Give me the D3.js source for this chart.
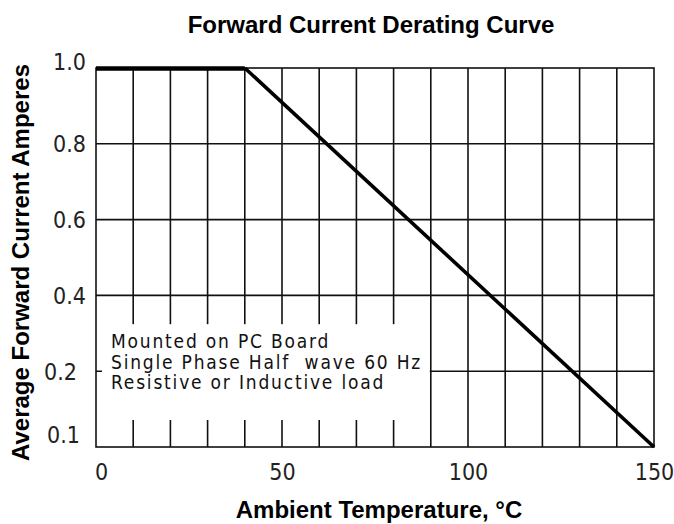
<!DOCTYPE html>
<html>
<head>
<meta charset="utf-8">
<script src="https://cdn.jsdelivr.net/npm/d3@7"></script>
<style>
  body { margin: 0; background: #fff; }
  .tick-lbl { font-family: "DejaVu Sans Condensed", "DejaVu Sans", sans-serif; font-stretch: condensed; font-size: 23px; fill: #222; }
  .bold-lbl { font-family: "Liberation Sans", Arial, sans-serif; font-weight: bold; font-size: 24px; fill: #000; }
  .note { font-family: "DejaVu Sans Condensed", "DejaVu Sans", sans-serif; font-stretch: condensed; font-size: 19px; letter-spacing: 1.8px; fill: #111; white-space: pre; }
</style>
</head>
<body>
<div id="chart"></div>
<script>
// donnees
var temps = [0, 40, 150];
var current = [1.0, 1.0, 0.1];
var xTicks = [0, 50, 100, 150];
var xGrid = [10, 20, 30, 40, 50, 60, 70, 80, 90, 100, 110, 120, 130, 140];
var yTicks = [0.1, 0.2, 0.4, 0.6, 0.8, 1.0];
var yGrid = [0.2, 0.4, 0.6, 0.8];
var noteLines = ["Mounted on PC Board", "Single Phase Half  wave 60 Hz", "Resistive or Inductive load"];
var chartTitle = "Forward Current Derating Curve";
var xTitle = "Ambient Temperature, °C";
var yTitle = "Average Forward Current Amperes";

var margin = {top: 68, right: 20, bottom: 77, left: 96},
    width = 674 - margin.left - margin.right,
    height = 524 - margin.top - margin.bottom;

var svg = d3.select("#chart")
  .append("svg")
    .attr("width", 674)
    .attr("height", 524)
  .append("g")
    .attr("transform", "translate(" + margin.left + "," + margin.top + ")");

var x = d3.scaleLinear()
  .domain([0, 150])
  .range([0, width]);

// echelle en deux morceaux : 0.1 -> 0.2 a le meme pas que 0.2 -> 0.4
var y = d3.scaleLinear()
  .domain([0.1, 0.2, 1.0])
  .range([height, height * 4 / 5, 0]);

// grille verticale
svg.append("g").selectAll("line")
  .data(xGrid)
  .enter().append("line")
    .attr("x1", function(d) { return x(d); })
    .attr("x2", function(d) { return x(d); })
    .attr("y1", 0)
    .attr("y2", height)
    .attr("stroke", "#111")
    .attr("stroke-width", 1.6);

// grille horizontale
svg.append("g").selectAll("line")
  .data(yGrid)
  .enter().append("line")
    .attr("x1", 0)
    .attr("x2", width)
    .attr("y1", function(d) { return y(d); })
    .attr("y2", function(d) { return y(d); })
    .attr("stroke", "#111")
    .attr("stroke-width", 1.6);

// cadre
svg.append("rect")
  .attr("width", width)
  .attr("height", height)
  .attr("fill", "none")
  .attr("stroke", "#111")
  .attr("stroke-width", 1.6);

// zone blanche de la note
var noteTop = y(0.2) - 47, noteBottom = y(0.1) - 27;
svg.append("rect")
  .attr("x", 6)
  .attr("y", noteTop)
  .attr("width", x(90) - 7)
  .attr("height", noteBottom - noteTop)
  .attr("fill", "#fff");

svg.append("g").selectAll("text")
  .data(noteLines)
  .enter().append("text")
    .attr("class", "note")
    .attr("x", 15)
    .attr("y", function(d, i) { return noteTop + 24 + i * 20.5; })
    .text(function(d) { return d; });

// courbe
var line = d3.line()
  .x(function(d) { return x(d[0]); })
  .y(function(d) { return y(d[1]); });
var pts = temps.map(function(t, i) { return [t, current[i]]; });

svg.append("path")
  .datum(pts.slice(1))
  .attr("d", line)
  .attr("fill", "none")
  .attr("stroke", "#000")
  .attr("stroke-width", 3.6);

svg.append("path")
  .datum(pts.slice(0, 2))
  .attr("d", line)
  .attr("fill", "none")
  .attr("stroke", "#000")
  .attr("stroke-width", 4.5)
  .attr("transform", "translate(0,0.5)");

// Axe X
var gx = svg.append("g")
  .attr("transform", "translate(0," + height + ")")
  .call(d3.axisBottom(x).tickValues(xTicks).tickSize(0).tickFormat(d3.format("d")));
gx.select(".domain").remove();
gx.selectAll("text")
  .attr("class", "tick-lbl")
  .attr("font-size", null).attr("font-family", null)
  .attr("y", 33).attr("dy", 0)
  .attr("dx", function(d) { return d === 0 ? 5 : 0; });

// Axe Y
var gy = svg.append("g")
  .call(d3.axisLeft(y).tickValues(yTicks).tickSize(0).tickPadding(10).tickFormat(d3.format(".1f")));
gy.select(".domain").remove();
gy.selectAll("text")
  .attr("class", "tick-lbl")
  .attr("font-size", null).attr("font-family", null)
  .attr("dy", function(d) { return d === 1.0 ? "0.05em" : d === 0.1 ? "-0.2em" : "0.35em"; })
  .attr("dx", function(d) { return d === 0.2 ? -9 : d === 0.1 ? -6 : 0; });

// titres
svg.append("text")
  .attr("class", "bold-lbl")
  .attr("x", width / 2 - 4)
  .attr("y", -35)
  .attr("text-anchor", "middle")
  .text(chartTitle);

svg.append("text")
  .attr("class", "bold-lbl")
  .attr("x", width / 2 + 4)
  .attr("y", height + 71)
  .attr("text-anchor", "middle")
  .text(xTitle);

svg.append("text")
  .attr("class", "bold-lbl")
  .attr("transform", "rotate(-90)")
  .attr("x", -(height / 2 + 5))
  .attr("y", -67)
  .attr("text-anchor", "middle")
  .text(yTitle);
</script>
</body>
</html>
